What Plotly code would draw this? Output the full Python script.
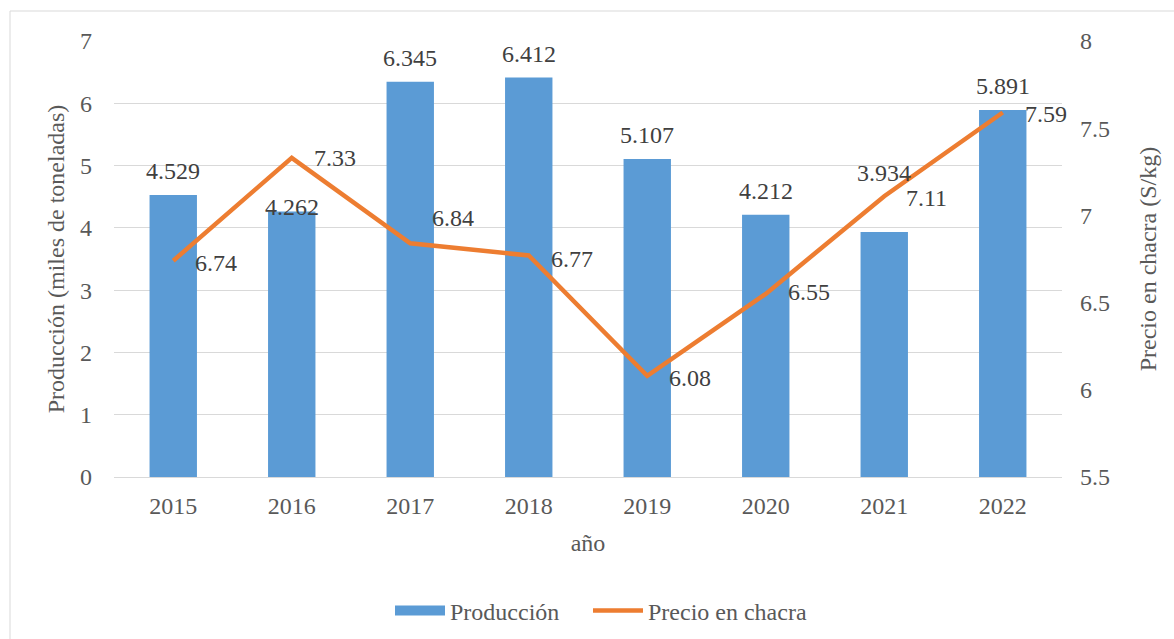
import plotly.graph_objects as go

years = [2015, 2016, 2017, 2018, 2019, 2020, 2021, 2022]
produccion = [4.529, 4.262, 6.345, 6.412, 5.107, 4.212, 3.934, 5.891]
precio = [6.74, 7.33, 6.84, 6.77, 6.08, 6.55, 7.11, 7.59]
produccion_labels = ["4.529", "4.262", "6.345", "6.412", "5.107", "4.212", "3.934", "5.891"]
precio_labels = ["6.74", "7.33", "6.84", "6.77", "6.08", "6.55", "7.11", "7.59"]
year_labels = ["2015", "2016", "2017", "2018", "2019", "2020", "2021", "2022"]

# label offsets (pixels) as manually placed in the original
bar_label_yshift = [24, 5, 24, 24, 24, 24, 59, 24]
line_label_yshift = [-2, 0, 25, -3, -2, 2, -2, -1]

FONT = "Liberation Serif"
FS = 24
BLUE = "#5B9BD5"
ORANGE = "#ED7D31"
GREY = "#595959"
DARK = "#404040"

fig = go.Figure()
fig.add_trace(go.Bar(x=years, y=produccion, name="Producción", showlegend=False,
                     marker=dict(color=BLUE, line=dict(width=0)), yaxis="y"))
# legend entry styled as a wide block like the original
fig.add_trace(go.Scatter(x=[None], y=[None], name="Producción", mode="lines",
                         line=dict(color=BLUE, width=11), yaxis="y", legend="legend"))
fig.add_trace(go.Scatter(x=years, y=precio, name="Precio en chacra", mode="lines",
                         line=dict(color=ORANGE, width=4.5), yaxis="y2", legend="legend2"))

annotations = []
for yr, v, t, ys in zip(years, produccion, produccion_labels, bar_label_yshift):
    annotations.append(dict(x=yr, y=v, xref="x", yref="y", text=t, showarrow=False,
                            xanchor="center", yanchor="middle", yshift=ys,
                            font=dict(family=FONT, size=FS, color=DARK)))
for yr, v, t, ys in zip(years, precio, precio_labels, line_label_yshift):
    annotations.append(dict(x=yr, y=v, xref="x", yref="y2", text=t, showarrow=False,
                            xanchor="left", yanchor="middle", xshift=20, yshift=ys,
                            font=dict(family=FONT, size=FS, color=DARK)))

legend_common = dict(orientation="h", xref="container", yref="container",
                     xanchor="left", yanchor="middle", y=(639 - 611) / 639,
                     font=dict(family=FONT, size=FS, color=GREY), itemwidth=50,
                     bgcolor="rgba(0,0,0,0)")

fig.update_layout(
    width=1174, height=639,
    margin=dict(l=114, r=112, t=41, b=162, autoexpand=False),
    paper_bgcolor="white", plot_bgcolor="white",
    font=dict(family=FONT, size=FS, color=GREY),
    bargap=0.6,
    showlegend=True,
    legend=dict(x=390 / 1174, **legend_common),
    legend2=dict(x=588 / 1174, **legend_common),
    xaxis=dict(range=[2014.5, 2022.5], tickmode="array", tickvals=years, ticktext=year_labels,
               showgrid=False, zeroline=False, showline=True, linecolor="#D9D9D9",
               linewidth=1.3, ticks="", tickfont=dict(family=FONT, size=FS, color=GREY),
               ticklabelstandoff=7, automargin=False,
               title=dict(text="año", font=dict(family=FONT, size=FS, color=GREY), standoff=16)),
    yaxis=dict(range=[0, 7], dtick=1, showgrid=True, gridcolor="#D9D9D9", gridwidth=1.3,
               zeroline=False, showline=False, ticks="", automargin=False,
               tickfont=dict(family=FONT, size=FS, color=GREY), ticklabelstandoff=21,
               title=dict(text="Producción (miles de toneladas)",
                          font=dict(family=FONT, size=FS, color=GREY), standoff=8)),
    yaxis2=dict(range=[5.5, 8], dtick=0.5, overlaying="y", side="right", showgrid=False,
                zeroline=False, showline=False, ticks="", automargin=False,
                tickfont=dict(family=FONT, size=FS, color=GREY), ticklabelstandoff=17,
                title=dict(text="Precio en chacra (S/kg)",
                           font=dict(family=FONT, size=FS, color=GREY), standoff=30)),
    annotations=annotations,
    shapes=[dict(type="rect", xref="paper", yref="paper",
                 x0=-0.1097, x1=1.13, y0=-0.39, y1=1.0688,
                 line=dict(color="#D9D9D9", width=1), fillcolor="rgba(0,0,0,0)", layer="below")],
)

fig.write_html("out.html", config={"displayModeBar": False},
               post_script="document.body.style.margin='0px';")
